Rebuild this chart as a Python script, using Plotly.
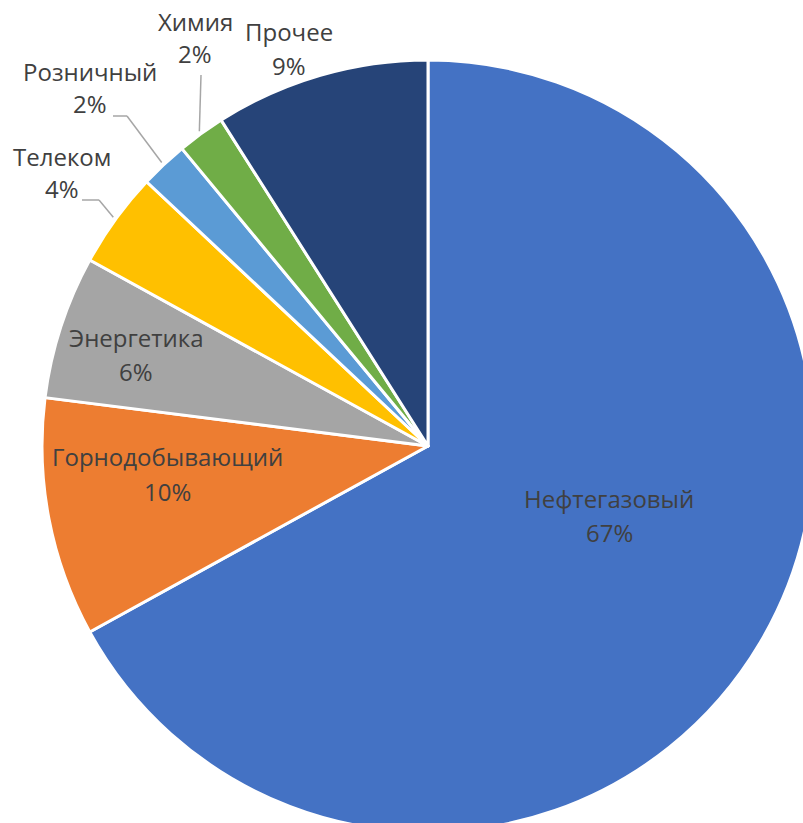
import math
import plotly.graph_objects as go

# Sector shares, %
sectors = ["Нефтегазовый", "Горнодобывающий", "Энергетика", "Телеком",
           "Розничный", "Химия", "Прочее"]
shares = [67, 10, 6, 4, 2, 2, 9]
colors = ["#4472C4", "#ED7D31", "#A5A5A5", "#FFC000",
          "#5B9BD5", "#70AD47", "#264478"]

# Figure geometry (pixels)
W, H = 814, 832
ML, MT = 42, 60
SIDE = 772
R = SIDE / 2
CX, CY = ML + R, MT + R

# Label placement (pixels): x centre, y of the name line and y of the percent line
label_pos = [(609, 500, 534), (167, 458, 493), (136, 340, 373), (62, 158, 190),
             (90, 73, 106), (195, 23, 56), (289, 33, 67)]
# Leader-line bend points (pixels), running from the slice edge outwards
leaders = [None, None, None,
           [(99, 200), (82, 200)],
           [(127, 116), (113, 116)],
           [(201, 75)],
           None]

TEXT_COLOR = "#404040"
LINE_COLOR = "#A6A6A6"
FONT = "Open Sans"
FONT_SIZE = 24
CAP_SHIFT = 2  # offset between box middle and visual centre of capitals


def to_paper(px, py):
    return (px - ML) / SIDE, (MT + SIDE - py) / SIDE


total = sum(shares)

fig = go.Figure(go.Pie(
    labels=sectors,
    values=shares,
    sort=False,
    direction="clockwise",
    rotation=0,
    marker=dict(colors=colors, line=dict(color="white", width=3)),
    textinfo="none",
    hoverinfo="label+percent",
    showlegend=False,
    domain=dict(x=[0, 1], y=[0, 1]),
))

annotations = []
shapes = []
cum = 0.0
for name, v, (lx, ly1, ly2), lead in zip(sectors, shares, label_pos, leaders):
    start = cum / total * 360
    cum += v
    stop = cum / total * 360
    mid = math.radians((start + stop) / 2)

    for txt, ly in ((name, ly1), (f"{round(100 * v / total)}%", ly2)):
        x, y = to_paper(lx, ly - CAP_SHIFT)
        annotations.append(dict(
            x=x, y=y, xref="paper", yref="paper",
            text=txt,
            showarrow=False, xanchor="center", yanchor="middle",
            font=dict(family=FONT, size=FONT_SIZE, color=TEXT_COLOR),
        ))

    if lead:
        ex = CX + (R + 3) * math.sin(mid)
        ey = CY - (R + 3) * math.cos(mid)
        pts = [(ex, ey)] + lead
        for (x0, y0), (x1, y1) in zip(pts[:-1], pts[1:]):
            p0 = to_paper(x0, y0)
            p1 = to_paper(x1, y1)
            shapes.append(dict(
                type="line", xref="paper", yref="paper",
                x0=p0[0], y0=p0[1], x1=p1[0], y1=p1[1],
                line=dict(color=LINE_COLOR, width=1.5),
            ))

fig.update_layout(
    width=W, height=H,
    margin=dict(l=ML, r=W - ML - SIDE, t=MT, b=H - MT - SIDE),
    paper_bgcolor="white",
    plot_bgcolor="white",
    annotations=annotations,
    shapes=shapes,
    font=dict(family=FONT, color=TEXT_COLOR),
)

fig.write_html(
    "out.html",
    config={"displayModeBar": False},
    post_script="document.documentElement.style.overflow='hidden';"
                "document.body.style.overflow='hidden';"
                "document.body.style.margin='0';",
)
